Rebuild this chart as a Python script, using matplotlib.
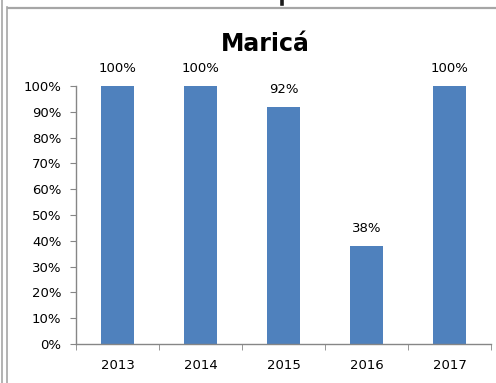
import matplotlib
matplotlib.use("Agg")
import matplotlib.pyplot as plt
from matplotlib.lines import Line2D
from matplotlib.ticker import FixedLocator, PercentFormatter

# Share per year
years = ["2013", "2014", "2015", "2016", "2017"]
shares = [100, 100, 92, 38, 100]
bar_labels = ["100%", "100%", "92%", "38%", "100%"]
y_ticks = [0, 10, 20, 30, 40, 50, 60, 70, 80, 90, 100]

W, H = 496, 383
fig = plt.figure(figsize=(W / 100, H / 100), dpi=100)
fig.patch.set_facecolor("white")

# chart frame: top edge and double line on the left
frame = "#a6a6a6"
fig.add_artist(Line2D([8 / W, 1], [1 - 8 / H, 1 - 8 / H], color=frame, lw=1.6))
fig.add_artist(Line2D([1.5 / W, 1.5 / W], [0, 1], color=frame, lw=1.2))
fig.add_artist(Line2D([7 / W, 7 / W], [0, 1 - 7 / H], color=frame, lw=1.2))
# tail of the heading stroke poking in from above
fig.add_artist(Line2D([281.5 / W, 281.5 / W], [1, 1 - 4 / H], color="#1a1a1a", lw=2.6))

ax = fig.add_axes([76 / W, 1 - 344 / H, (491 - 76) / W, (344 - 86) / H])
x = range(len(years))
bars = ax.bar(x, shares, width=0.4, color="#4f81bd", zorder=2)
for b, lab in zip(bars, bar_labels):
    ax.annotate(lab, (b.get_x() + b.get_width() / 2, b.get_height()),
                xytext=(0, 10), textcoords="offset points",
                ha="center", va="baseline", fontsize=9.5)

ax.set_xlim(-0.5, len(years) - 0.5)
ax.set_ylim(0, 100)
ax.set_yticks(y_ticks)
ax.yaxis.set_major_formatter(PercentFormatter(decimals=0))
ax.set_xticks(list(x))
ax.set_xticklabels(years)
ax.xaxis.set_minor_locator(FixedLocator([i - 0.5 for i in range(len(years) + 1)]))

axis_col = "#868686"
for s in ["top", "right"]:
    ax.spines[s].set_visible(False)
for s in ["left", "bottom"]:
    ax.spines[s].set_color(axis_col)
    ax.spines[s].set_linewidth(1.0)
ax.tick_params(axis="y", length=4.5, color=axis_col, pad=6, labelsize=9.5)
ax.tick_params(axis="x", which="major", length=0, pad=11, labelsize=9.5)
ax.tick_params(axis="x", which="minor", length=4.5, color=axis_col)

fig.text(265 / W, 1 - 51 / H, "Maricá", fontsize=17, fontweight="bold",
         ha="center", va="baseline")

fig.savefig("out.png", dpi=100)
